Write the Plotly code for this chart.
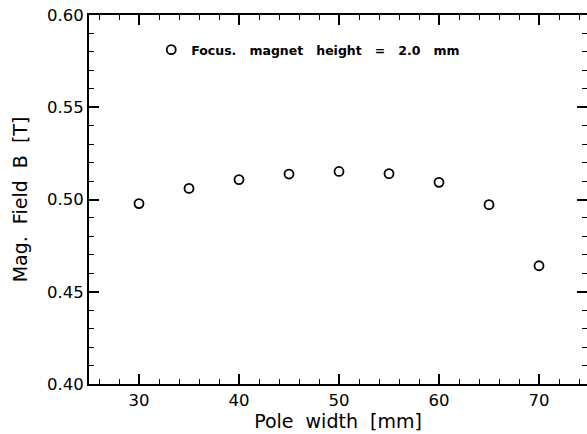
import plotly.graph_objects as go

pole_width = [30, 35, 40, 45, 50, 55, 60, 65, 70]
mag_field = [0.4978, 0.5060, 0.5108, 0.5138, 0.5152, 0.5140, 0.5093, 0.4972, 0.4641]

SP2 = "\u00a0\u00a0"
SP3 = "\u00a0\u00a0\u00a0"
series_name = SP3.join(["Focus.", "magnet", "height", "=", "2.0", "mm"])
x_title = SP2.join(["Pole", "width", "[mm]"])
y_title = SP2.join(["Mag.", "Field", "B", "[T]"])

FONT = "DejaVu Sans, Arial, sans-serif"
XR = [25, 74.8]
YR = [0.40, 0.60]

fig = go.Figure()
fig.add_trace(go.Scatter(
    x=pole_width, y=mag_field, mode="markers", name=series_name,
    marker=dict(symbol="circle-open", size=9, color="black", line=dict(width=1.8, color="black")),
))

tick_common = dict(
    showgrid=False, zeroline=False, linecolor="black", linewidth=2,
    ticks="inside", ticklen=10, tickwidth=1.6, tickcolor="black",
    tickfont=dict(family=FONT, size=16.5, color="black"),
)
xminor = dict(dtick=2, ticks="inside", ticklen=5, tickwidth=1.3, tickcolor="black")
yminor = dict(dtick=0.01, ticks="inside", ticklen=5, tickwidth=1.3, tickcolor="black")

fig.update_layout(
    xaxis=dict(range=XR, dtick=10, tick0=0, showline=True, minor=xminor,
               title=dict(text=x_title, font=dict(family=FONT, size=19, color="black"), standoff=4),
               **tick_common),
    yaxis=dict(range=YR, dtick=0.05, tick0=0, tickformat=".2f", showline=True, minor=yminor,
               title=dict(text=y_title, font=dict(family=FONT, size=19, color="black"), standoff=14),
               **tick_common),
    xaxis2=dict(range=XR, dtick=10, tick0=0, overlaying="x", side="top", matches="x",
                showline=True, showticklabels=False, minor=xminor, anchor="y", **tick_common),
    yaxis2=dict(range=YR, dtick=0.05, tick0=0, overlaying="y", side="right", matches="y",
                showline=False, showticklabels=False, minor=yminor, anchor="x", **tick_common),
)
fig.add_trace(go.Scatter(x=[], y=[], xaxis="x2", yaxis="y2", showlegend=False, hoverinfo="skip"))

fig.update_layout(
    width=587, height=434,
    margin=dict(l=89, r=0, t=15, b=50),
    plot_bgcolor="white", paper_bgcolor="white",
    showlegend=True,
    legend=dict(x=0.125, y=0.905, xanchor="left", yanchor="middle", bgcolor="rgba(0,0,0,0)",
                font=dict(family=FONT, size=12.5, color="black", weight="bold"), itemwidth=30),
)

fig.write_html("out.html")
